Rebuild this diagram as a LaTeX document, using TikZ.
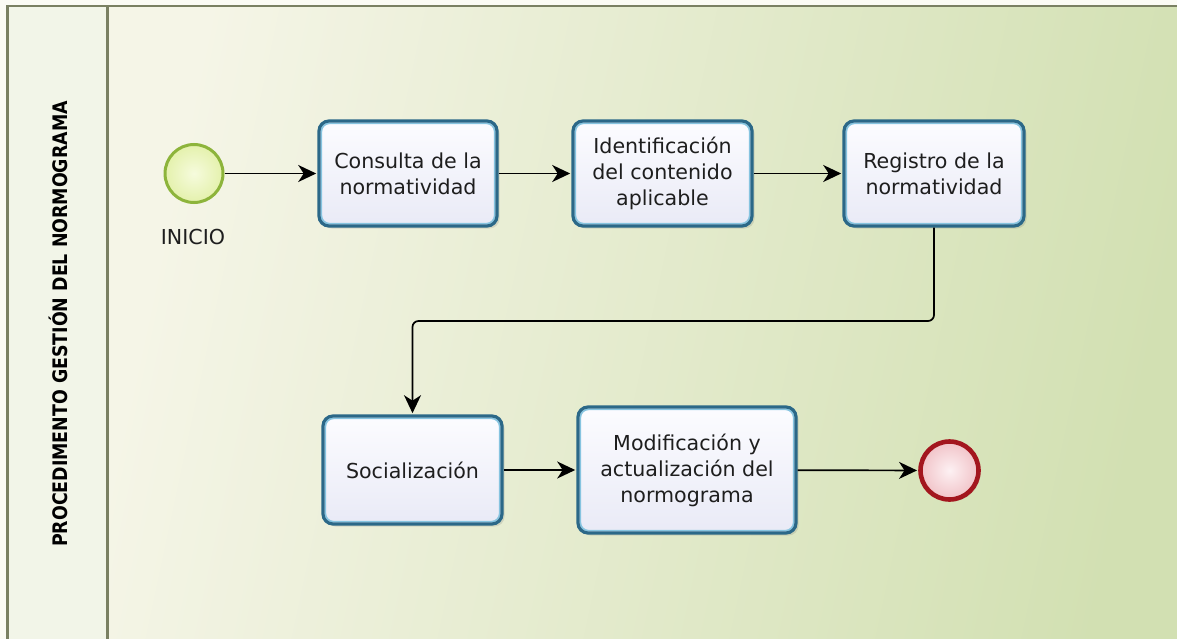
\documentclass[tikz,border=0pt]{standalone}
\usepackage{fontspec}
\usepackage{graphicx}
\setmainfont{DejaVu Sans}
\usetikzlibrary{arrows.meta,shadows,calc}
\definecolor{pageback}{HTML}{FBFBF4}
\definecolor{poolline}{HTML}{7A8062}
\definecolor{labelfill}{HTML}{F2F5E8}
\definecolor{lanelight}{HTML}{F5F5E7}
\definecolor{lanegreen}{HTML}{D2E0B2}
\definecolor{taskline}{HTML}{2B6888}
\definecolor{taskglow}{HTML}{86C4E0}
\definecolor{tasktop}{HTML}{FCFCFF}
\definecolor{taskbot}{HTML}{E9EAF6}
\definecolor{startline}{HTML}{8DB43B}
\definecolor{startin}{HTML}{F6FBDD}
\definecolor{startout}{HTML}{E4F1AC}
\definecolor{endline}{HTML}{A3161E}
\definecolor{endin}{HTML}{FDF1F3}
\definecolor{endout}{HTML}{F1C3C8}
\definecolor{textdark}{HTML}{1E1E1E}
\newcommand\taskfont{\fontsize{20.6}{26}\selectfont}
\begin{document}
\begin{tikzpicture}[x=1pt,y=-1pt,
  task/.style={rounded corners=10pt, draw=taskline, line width=3.2pt,
    top color=tasktop, bottom color=taskbot, align=center, inner sep=0pt,
    font=\taskfont, text=textdark,
    drop shadow={shadow xshift=2.5pt, shadow yshift=-2.5pt, opacity=0.18, fill=black!60},
    path picture={\draw[taskglow, line width=1.6pt, rounded corners=8pt]
      ([shift={(2.4pt,-2.4pt)}]path picture bounding box.north west) rectangle
      ([shift={(-2.4pt,2.4pt)}]path picture bounding box.south east);}},
  startev/.style={circle, minimum size=58pt, inner sep=0pt, draw=startline,
    line width=3pt, inner color=startin, outer color=startout},
  endev/.style={circle, minimum size=58pt, inner sep=0pt, draw=endline,
    line width=4.6pt, inner color=endin, outer color=endout,
    drop shadow={shadow xshift=2pt, shadow yshift=-2pt, opacity=0.12, fill=black!60}},
  flow/.style={draw=black, line width=1.7pt, shorten >=1.2pt,
    -{Stealth[length=18pt,width=17pt,inset=5.5pt]}},
  lbl/.style={font=\taskfont, text=textdark, inner sep=0pt}
]
\useasboundingbox (0,0) rectangle (1177,639);
% background and pool
\fill[pageback] (0,0) rectangle (1177,639);
\begin{scope}
  \clip (0,0) rectangle (1177,639);
  \shade[top color=lanelight, bottom color=lanegreen, shading angle=78]
    (107.5,6) rectangle (1190,650);
  \fill[labelfill] (7.5,6) rectangle (107.5,650);
  \draw[poolline, line width=2.8pt] (7.5,6) rectangle (1190,650);
  \draw[poolline, line width=2.8pt] (107.5,6) -- (107.5,650);
\end{scope}
\node[rotate=90, inner sep=0pt, text=black,
  font=\bfseries\fontsize{20}{20}\selectfont] (lanelabel) at (58,324)
  {\scalebox{0.87}[1]{PROCEDIMENTO GESTIÓN DEL NORMOGRAMA}};
% events and tasks
\node[startev] (start) at (194,173.5) {};
\node[lbl] (startlabel) at (193,237) {INICIO};
\node[task, minimum width=178pt, minimum height=105pt] (t1) at (408,173.5)
  {Consulta de la\\normatividad};
\node[task, minimum width=179pt, minimum height=105pt] (t2) at (662.5,173.5)
  {Identificación\\del contenido\\aplicable};
\node[task, minimum width=180pt, minimum height=105pt] (t3) at (934,173.5)
  {Registro de la\\normatividad};
\node[task, minimum width=179pt, minimum height=108pt] (t4) at (412.5,470)
  {Socialización};
\node[task, minimum width=218pt, minimum height=126pt] (t5) at (687,470)
  {Modificación y\\actualización del\\normograma};
\node[endev] (end) at (949.5,470.5) {};
% connectors
\coordinate (bendrow) at (600,321);
\draw[flow] (start) -- (t1);
\draw[flow] (t1) -- (t2);
\draw[flow] (t2) -- (t3);
\draw[flow, rounded corners=6pt] (t3.south) -- (t3.south |- bendrow) -| (t4.north);
\draw[flow] (t4) -- (t5);
\draw[flow] (t5) -- (end);
\end{tikzpicture}
\end{document}
